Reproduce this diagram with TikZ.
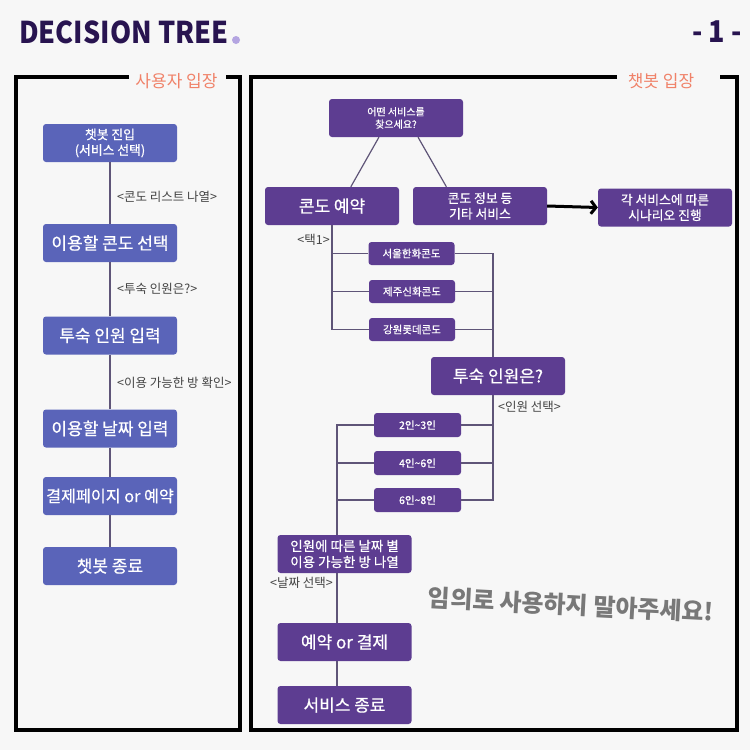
\documentclass[tikz,border=0pt]{standalone}
\usepackage{fontspec}
\setmainfont{Noto Sans CJK KR}
\newfontfamily\boxfont[FakeBold=0.6]{Noto Sans CJK KR}
\usetikzlibrary{arrows.meta,calc}
\definecolor{bgc}{RGB}{247,247,247}
\definecolor{lblue}{RGB}{90,100,185}
\definecolor{rpurp}{RGB}{93,61,145}
\definecolor{titlec}{RGB}{40,20,80}
\definecolor{dotc}{RGB}{180,165,225}
\definecolor{salmon}{RGB}{240,130,105}
\definecolor{lgray}{RGB}{68,68,68}
\definecolor{conn}{RGB}{95,85,120}
\definecolor{wmark}{RGB}{120,120,120}
\tikzset{
  boxbase/.style={rounded corners=3pt, text=white, align=center, inner sep=0pt},
  lbox/.style={boxbase, fill=lblue, minimum width=134pt, minimum height=38pt},
  pbox/.style={boxbase, fill=rpurp, minimum width=134pt, minimum height=38pt},
  sbox/.style={boxbase, fill=rpurp, minimum width=86pt, minimum height=23pt, font=\boxfont\fontsize{10.5}{12}\selectfont},
  bigt/.style={font=\boxfont\fontsize{17}{20}\selectfont},
  midt/.style={font=\boxfont\fontsize{12.8}{15.5}\selectfont},
  smallt/.style={font=\boxfont\fontsize{10}{12.5}\selectfont},
  lbl/.style={text=lgray, font=\fontsize{12.5}{14}\selectfont, inner sep=0pt},
  frame/.style={line width=3.5pt, black},
  cline/.style={line width=1.2pt, conn},
}
\begin{document}
\begin{tikzpicture}[x=1pt,y=-1pt]
\fill[bgc] (0,0) rectangle (750,750);
\useasboundingbox (0,0) rectangle (750,750);

% title
\node[anchor=west, inner sep=0pt, text=titlec, font=\fontsize{30}{32}\bfseries, xscale=0.9] (title) at (19,32) {DECISION TREE};
\fill[dotc] (236,40) circle (4);
\node[anchor=east, inner sep=0pt, text=titlec, font=\fontsize{30}{32}\bfseries, xscale=0.9] (page) at (742,32) {- 1 -};

% frames
\draw[frame] (129,77) -- (16,77) -- (16,730) -- (240,730) -- (240,77) -- (226,77);
\draw[frame] (617,77) -- (251,77) -- (251,730) -- (737,730) -- (737,77) -- (720,77);
\node[text=salmon, font=\fontsize{17}{19}\selectfont, inner sep=0pt] (ltitle) at (176.5,81) {사용자 입장};
\node[text=salmon, font=\fontsize{17}{19}\selectfont, inner sep=0pt] (rtitle) at (661,81) {챗봇 입장};

% left column
\node[lbox, midt] (L1) at (110,143) {챗봇 진입\\(서비스 선택)};
\node[lbox, bigt] (L2) at (110,243) {이용할 콘도 선택};
\node[lbox, bigt] (L3) at (110,335.5) {투숙 인원 입력};
\node[lbox, bigt] (L4) at (110,428.5) {이용할 날짜 입력};
\node[lbox, font=\boxfont\fontsize{16.2}{19}\selectfont] (L5) at (110,496) {결제페이지 or 예약};
\node[lbox, bigt] (L6) at (110,566) {챗봇 종료};
\draw[cline] (L1.south) -- (L2.north);
\draw[cline] (L2.south) -- (L3.north);
\draw[cline] (L3.south) -- (L4.north);
\draw[cline] (L4.south) -- (L5.north);
\draw[cline] (L5.south) -- (L6.north);
\node[lbl, anchor=west] (la) at (117,197) {<콘도 리스트 나열>};
\node[lbl, anchor=west] (lb) at (117,289) {<투숙 인원은?>};
\node[lbl, anchor=west] (lc) at (117,383) {<이용 가능한 방 확인>};

% right column
\node[pbox, smallt] (R0) at (396,118) {어떤 서비스를\\찾으세요?};
\node[pbox, bigt] (R1) at (332,206) {콘도 예약};
\node[pbox, midt] (R2) at (480,206) {콘도 정보 등\\기타 서비스};
\node[pbox, midt] (R3) at (665,207.5) {각 서비스에 따른\\시나리오 진행};
\draw[cline] ($(R0.south west)!0.373!(R0.south east)$) -- ($(R1.north west)!0.64!(R1.north east)$);
\draw[cline] ($(R0.south west)!0.664!(R0.south east)$) -- ($(R2.north west)!0.25!(R2.north east)$);
\draw[line width=3pt, black, -{Straight Barb[length=5pt,width=13pt]}] (R2.east) -- (R3.west);

\node[sbox] (K1) at (411.5,253.5) {서울한화콘도};
\node[sbox] (K2) at (412,291.5) {제주신화콘도};
\node[sbox] (K3) at (412,329.5) {강원롯데콘도};
\node[lbl, anchor=east] (tk) at (330,240) {<택1>};
\draw[cline] (R1.south) |- (K3.west);
\draw[cline] (R1.south |- K1.west) -- (K1.west);
\draw[cline] (R1.south |- K2.west) -- (K2.west);

\node[pbox, bigt] (C0) at (498,376) {투숙 인원은?};
\draw[cline] (K1.east) -| ([xshift=-5pt]C0.north);
\draw[cline] (K2.east) -- ($(K2.east -| C0.north)+(-5,0)$);
\draw[cline] (K3.east) -- ($(K3.east -| C0.north)+(-5,0)$);
\node[lbl, anchor=west] (ps) at (498,407) {<인원 선택>};

\node[sbox, minimum width=87pt, minimum height=24pt] (P1) at (417.5,425) {2인\textasciitilde3인};
\node[sbox, minimum width=87pt, minimum height=24pt] (P2) at (417.5,463) {4인\textasciitilde6인};
\node[sbox, minimum width=87pt, minimum height=24pt] (P3) at (417.5,500) {6인\textasciitilde8인};
\draw[cline] ([xshift=-5pt]C0.south) |- (P3.east);
\draw[cline] (P1.east) -- ($(P1.east -| C0.south)+(-5,0)$);
\draw[cline] (P2.east) -- ($(P2.east -| C0.south)+(-5,0)$);

\node[pbox, font=\boxfont\fontsize{13.5}{16}\selectfont] (D) at (344.5,554) {인원에 따른 날짜 별\\이용 가능한 방 나열};
\draw[cline] (P1.west) -| ([xshift=-7.5pt]D.north);
\draw[cline] (P2.west) -- ($(P2.west -| D.north)+(-7.5,0)$);
\draw[cline] (P3.west) -- ($(P3.west -| D.north)+(-7.5,0)$);
\node[lbl] (ds) at (301.5,583) {<날짜 선택>};

\node[pbox, bigt] (E) at (344.5,642) {예약 or 결제};
\node[pbox, bigt] (F) at (344.5,705) {서비스 종료};
\draw[cline] ([xshift=-7.5pt]D.south) -- ([xshift=-7.5pt]E.north);
\draw[cline] ([xshift=-7.5pt]E.south) -- ([xshift=-7.5pt]F.north);

% watermark
\node[text=wmark, font=\fontsize{24}{28}\bfseries, rotate=-3, inner sep=0pt] (wm) at (571,605) {임의로 사용하지 말아주세요!};
\end{tikzpicture}
\end{document}
